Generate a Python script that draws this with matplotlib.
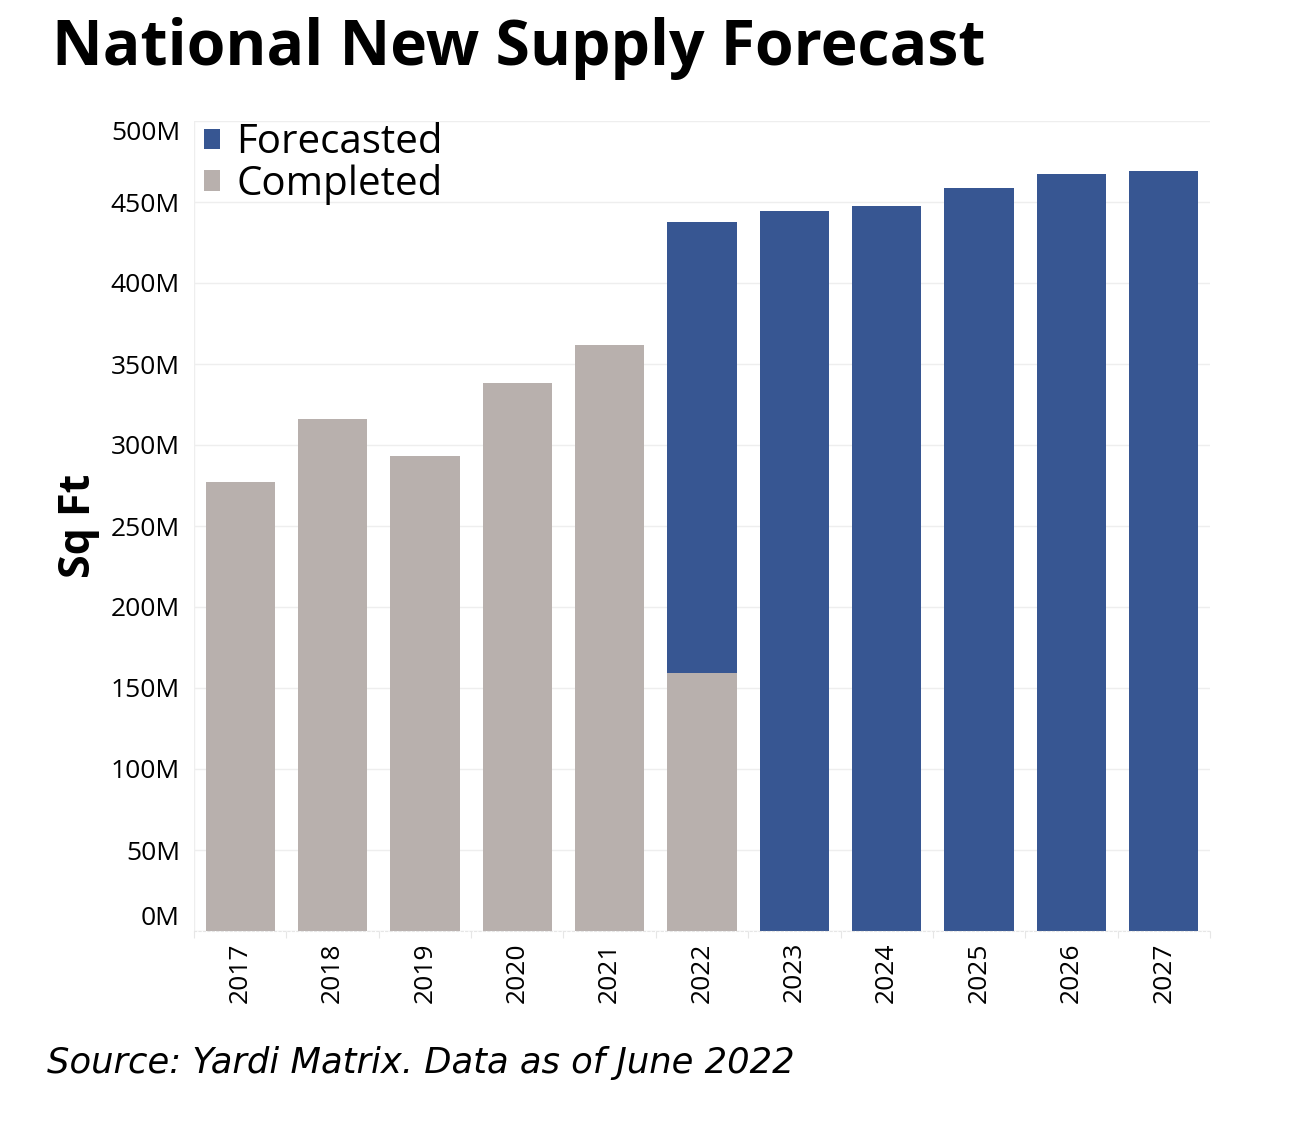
import matplotlib
matplotlib.use("Agg")
import matplotlib.pyplot as plt
import numpy as np

years = ["2017", "2018", "2019", "2020", "2021", "2022", "2023", "2024", "2025", "2026", "2027"]
completed = [277, 316, 293, 338, 362, 159, 0, 0, 0, 0, 0]          # millions sq ft
forecasted = [0, 0, 0, 0, 0, 278.5, 444.5, 447.5, 458.5, 467, 469]  # millions sq ft
y_ticks = [0, 50, 100, 150, 200, 250, 300, 350, 400, 450, 500]
y_tick_labels = [f"{v}M" for v in y_ticks]

BLUE = "#375692"
GRAY = "#b8b0ad"
FONT = ["Open Sans", "DejaVu Sans"]
plt.rcParams["font.family"] = FONT

fig = plt.figure(figsize=(12.9, 11.22), dpi=100)
ax = fig.add_axes([194 / 1290, 1 - 931 / 1122, (1210 - 194) / 1290, (931 - 121) / 1122])

x = np.arange(len(years))
ax.bar(x, completed, width=0.75, color=GRAY, label="Completed", zorder=2)
ax.bar(x, forecasted, width=0.75, bottom=completed, color=BLUE, label="Forecasted", zorder=2)

ax.set_xlim(-0.5, len(years) - 0.5)
ax.set_ylim(0, 500)
ax.set_yticks(y_ticks)
ax.set_yticklabels(y_tick_labels, fontsize=19)
labels = ax.get_yticklabels()
labels[0].set_va("bottom")
labels[-1].set_va("top")
ax.tick_params(axis="y", length=0, pad=10)

ax.set_xticks(x)
ax.set_xticklabels(years, rotation=90, fontsize=19)
ax.tick_params(axis="x", length=0, pad=8)
ax.set_xticks(np.arange(-0.5, len(years), 1), minor=True)
ax.tick_params(axis="x", which="minor", length=5, color="#e6e6e6", width=0.8)

ax.grid(axis="y", color="#eeeeee", linewidth=1, zorder=0)
for s in ["top", "right", "left"]:
    ax.spines[s].set_visible(False)
ax.spines["bottom"].set_color("#e6e6e6")
ax.spines["bottom"].set_linestyle((0, (2, 2)))
ax.axvline(-0.5, color="#eeeeee", linewidth=1, zorder=0)

ax.set_ylabel("Sq Ft", fontsize=31, fontweight="bold", labelpad=8)

handles, lbls = ax.get_legend_handles_labels()
leg = ax.legend(handles[::-1], lbls[::-1], loc="upper left", bbox_to_anchor=(0.002, 1.008),
                fontsize=29, frameon=False, handlelength=0.4, handleheight=0.4,
                handletextpad=0.4, labelspacing=0.02, borderaxespad=0.0, borderpad=0.2)

fig.text(52 / 1290, 1 - 49 / 1122, "National New Supply Forecast", fontsize=45,
         fontweight="bold", va="center", ha="left")
fig.text(47 / 1290, 1 - 1063 / 1122, "Source: Yardi Matrix. Data as of June 2022", fontsize=25.5,
         style="italic", va="center", ha="left", family=["DejaVu Sans"])

fig.savefig("out.png", dpi=100)
